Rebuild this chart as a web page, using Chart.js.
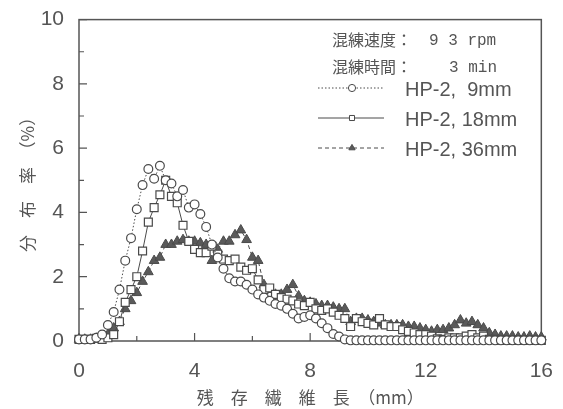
<!DOCTYPE html>
<html>
<head>
<meta charset="utf-8">
<script src="https://cdn.jsdelivr.net/npm/chart.js@4.4.1/dist/chart.umd.min.js"></script>
<style>
  html, body { margin: 0; padding: 0; background: #fff; }
  #wrap { width: 563px; height: 409px; }
</style>
</head>
<body>
<div id="wrap"><canvas id="chart-canvas" width="563" height="409"></canvas></div>
<script>
// residual fibre length (mm), one point every 0.2 mm
const lengths = [
  0, 0.2, 0.4, 0.6, 0.8, 1, 1.2, 1.4, 1.6, 1.8,
  2, 2.2, 2.4, 2.6, 2.8, 3, 3.2, 3.4, 3.6, 3.8,
  4, 4.2, 4.4, 4.6, 4.8, 5, 5.2, 5.4, 5.6, 5.8,
  6, 6.2, 6.4, 6.6, 6.8, 7, 7.2, 7.4, 7.6, 7.8,
  8, 8.2, 8.4, 8.6, 8.8, 9, 9.2, 9.4, 9.6, 9.8,
  10, 10.2, 10.4, 10.6, 10.8, 11, 11.2, 11.4, 11.6, 11.8,
  12, 12.2, 12.4, 12.6, 12.8, 13, 13.2, 13.4, 13.6, 13.8,
  14, 14.2, 14.4, 14.6, 14.8, 15, 15.2, 15.4, 15.6, 15.8,
  16
];

// distribution (%)
const hp9 = [
  0.05, 0.05, 0.05, 0.1, 0.2, 0.5, 0.9, 1.6, 2.5, 3.2,
  4.1, 4.85, 5.35, 5.05, 5.45, 5.0, 4.9, 4.5, 4.7, 4.15,
  4.25, 3.95, 3.55, 3.0, 2.6, 2.25, 1.95, 1.85, 1.85, 1.75,
  1.6, 1.45, 1.35, 1.25, 1.15, 1.1, 1.0, 0.85, 0.7, 0.75,
  0.8, 0.7, 0.55, 0.4, 0.22, 0.14, 0.05, 0.02, 0.02, 0.02,
  0.02, 0.02, 0.02, 0.02, 0.02, 0.02, 0.02, 0.02, 0.02, 0.02,
  0.02, 0.02, 0.02, 0.02, 0.02, 0.02, 0.02, 0.02, 0.02, 0.02,
  0.02, 0.02, 0.02, 0.02, 0.02, 0.02, 0.02, 0.02, 0.02, 0.02,
  0.02
];
const hp18 = [
  0.05, 0.05, 0.05, 0.08, 0.05, 0.1, 0.2, 0.6, 1.2, 1.6,
  2.0, 2.8, 3.7, 4.15, 4.55, 5.0, 4.5, 4.3, 3.6, 3.1,
  2.85, 2.75, 2.75, 2.95, 2.7, 2.55, 2.5, 2.55, 2.3, 2.2,
  2.25, 1.9, 1.6, 1.65, 1.45, 1.35, 1.3, 1.25, 1.15, 1.1,
  1.2, 1.0, 0.95, 1.0, 0.9, 0.8, 0.7, 0.45, 0.7, 0.6,
  0.55, 0.5, 0.7, 0.5, 0.45, 0.45, 0.35, 0.3, 0.25, 0.2,
  0.2, 0.15, 0.07, 0.05, 0.1, 0.1, 0.1, 0.15, 0.2, 0.1,
  0.15, 0.05, 0.05, 0.02, 0.02, 0.02, 0.02, 0.02, 0.02, 0.02,
  0.02
];
const hp36 = [
  0.05, 0.05, 0.05, 0.08, 0.1, 0.2, 0.4, 0.6, 1.0, 1.25,
  1.5, 1.85, 2.15, 2.5, 2.6, 3.0, 3.0, 3.1, 3.15, 3.1,
  3.1, 3.05, 3.0, 2.5, 2.85, 3.1, 3.1, 3.3, 3.45, 3.15,
  2.6, 2.5, 1.75, 1.6, 1.45, 1.45, 1.6, 1.75, 1.4, 1.25,
  1.2, 1.15, 1.1, 1.1, 1.05, 1.0, 1.0, 0.6, 0.7, 0.7,
  0.65, 0.6, 0.55, 0.5, 0.5, 0.5, 0.5, 0.45, 0.45, 0.4,
  0.35, 0.3, 0.35, 0.35, 0.4, 0.5, 0.65, 0.55, 0.6, 0.5,
  0.4, 0.25, 0.2, 0.15, 0.15, 0.15, 0.12, 0.12, 0.15, 0.12,
  0.12
];

const seriesLabels = ["HP-2,  9mm", "HP-2, 18mm", "HP-2, 36mm"];
const xTicks = [0, 4, 8, 12, 16];
const yTicks = [0, 2, 4, 6, 8, 10];
const conditionLabels = ["混練速度：", "混練時間："];
const conditionValues = ["9 3 rpm", "3 min"];

const ink = "#4a4a4a";
const jp = "'Noto Sans CJK JP', sans-serif";
const latin = "'Liberation Sans', Arial, sans-serif";

const toPoints = (ys) => ys.map((y, i) => ({ x: lengths[i], y: y }));

// box round the plot with the short inward ticks
const framePlugin = {
  id: "frame",
  beforeDatasetsDraw(chart) {
    const { ctx, chartArea: a, scales } = chart;
    ctx.save();
    ctx.strokeStyle = "#555";
    ctx.lineWidth = 1.5;
    ctx.strokeRect(a.left, a.top, a.right - a.left, a.bottom - a.top);
    ctx.lineWidth = 1.2;
    ctx.beginPath();
    scales.x.ticks.forEach((t) => {
      const len = xTicks.includes(t.value) ? 8 : 5;
      const px = scales.x.getPixelForValue(t.value);
      ctx.moveTo(px, a.bottom);
      ctx.lineTo(px, a.bottom - len);
    });
    scales.y.ticks.forEach((t) => {
      const len = yTicks.includes(t.value) ? 8 : 5;
      const py = scales.y.getPixelForValue(t.value);
      ctx.moveTo(a.left, py);
      ctx.lineTo(a.left + len, py);
    });
    ctx.stroke();
    ctx.restore();
  },
};

const drawMarker = (ctx, style, x, y, r, fill) => {
  ctx.beginPath();
  if (style === "circle") {
    ctx.arc(x, y, r, 0, Math.PI * 2);
  } else if (style === "rect") {
    ctx.rect(x - r * 0.7, y - r * 0.7, r * 1.4, r * 1.4);
  } else {
    ctx.moveTo(x, y - r);
    ctx.lineTo(x + r * 0.87, y + r * 0.5);
    ctx.lineTo(x - r * 0.87, y + r * 0.5);
    ctx.closePath();
  }
  ctx.fillStyle = fill;
  ctx.fill();
  ctx.stroke();
};

// conditions and series key, top right inside the plot
const keyPlugin = {
  id: "key",
  afterDraw(chart) {
    const ctx = chart.ctx;
    ctx.save();
    ctx.fillStyle = "#555";
    ctx.textBaseline = "middle";
    ctx.textAlign = "left";
    const condY = [40, 67];
    const valX = [429, 449];
    conditionLabels.forEach((lbl, i) => {
      ctx.font = "16px " + jp;
      ctx.fillText(lbl, 332, condY[i]);
      ctx.font = "16px 'Liberation Mono', monospace";
      ctx.fillText(conditionValues[i], valX[i], condY[i] + 1);
    });
    const rowY = [88, 118, 148];
    chart.data.datasets.forEach((ds, i) => {
      const y = rowY[i];
      ctx.strokeStyle = ds.borderColor;
      ctx.lineWidth = 1;
      ctx.setLineDash(ds.borderDash || []);
      ctx.beginPath();
      ctx.moveTo(318, y);
      ctx.lineTo(384, y);
      ctx.stroke();
      ctx.setLineDash([]);
      drawMarker(ctx, ds.pointStyle, 352, y, 3.6, ds.pointBackgroundColor);
      ctx.fillStyle = "#555";
      ctx.font = "20px " + latin;
      ctx.fillText(ds.label, 405, y + 2);
    });
    ctx.restore();
  },
};

const ctx = document.getElementById("chart-canvas");

const chart = new Chart(ctx, {
  type: "line",
  data: {
    datasets: [
      {
        label: seriesLabels[0],
        data: toPoints(hp9),
        borderColor: ink,
        borderWidth: 1,
        borderDash: [1.5, 2],
        pointStyle: "circle",
        pointRadius: 4.4,
        pointBorderWidth: 1.2,
        pointBorderColor: ink,
        pointBackgroundColor: "#fff",
        clip: false,
      },
      {
        label: seriesLabels[1],
        data: toPoints(hp18),
        borderColor: ink,
        borderWidth: 1,
        pointStyle: "rect",
        pointRadius: 5.6,
        pointBorderWidth: 1.2,
        pointBorderColor: ink,
        pointBackgroundColor: "#fff",
        clip: false,
      },
      {
        label: seriesLabels[2],
        data: toPoints(hp36),
        borderColor: ink,
        borderWidth: 1,
        borderDash: [4, 3],
        pointStyle: "triangle",
        pointRadius: 5.6,
        pointBorderWidth: 1,
        pointBorderColor: "#4a4a4a",
        pointBackgroundColor: "#5a5a5a",
        clip: false,
      },
    ],
  },
  options: {
    responsive: false,
    animation: false,
    devicePixelRatio: 1,
    layout: { padding: { left: 0, right: 17, top: 18, bottom: 0 } },
    plugins: {
      legend: { display: false },
      tooltip: { enabled: false },
    },
    scales: {
      x: {
        type: "linear",
        min: 0,
        max: 16,
        afterFit: (scale) => { scale.height = 68; },
        border: { display: false },
        grid: { display: false },
        ticks: {
          stepSize: 2,
          autoSkip: false,
          maxRotation: 0,
          padding: 10,
          color: "#555",
          font: { family: latin, size: 21 },
          callback: (v) => (xTicks.includes(v) ? String(v) : ""),
        },
        title: {
          display: true,
          text: "残　存　繊　維　長　（mm）",
          color: "#555",
          font: { family: jp, size: 17 },
          padding: { top: 0, bottom: 1 },
        },
      },
      y: {
        min: 0,
        max: 10,
        afterFit: (scale) => { scale.width = 79; },
        border: { display: false },
        grid: { display: false },
        ticks: {
          stepSize: 1,
          autoSkip: false,
          padding: 7,
          color: "#555",
          font: { family: latin, size: 21 },
          callback: (v) => (yTicks.includes(v) ? String(v) : ""),
        },
        title: {
          display: true,
          text: "分　布　率　（%）",
          color: "#555",
          font: { family: jp, size: 17 },
          padding: { top: 17, bottom: 0 },
        },
      },
    },
  },
  plugins: [framePlugin, keyPlugin],
});
</script>
</body>
</html>
